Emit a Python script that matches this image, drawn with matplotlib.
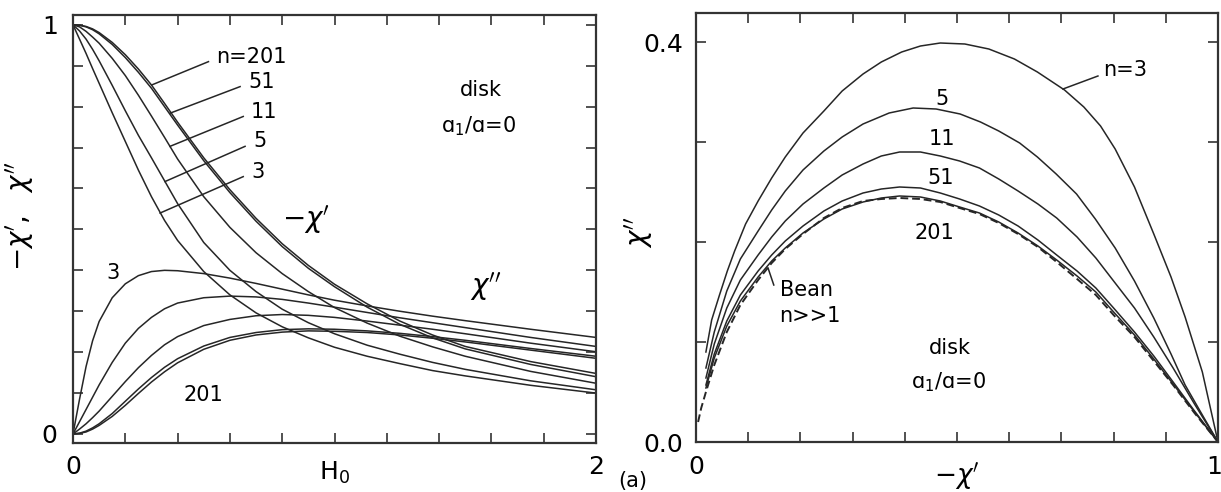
import matplotlib
matplotlib.use("Agg")
import matplotlib.pyplot as plt
from matplotlib.transforms import ScaledTranslation

# ---------------- left panel: -chi' and chi'' versus H0 ----------------
h0 = [0, 0.025, 0.05, 0.075, 0.1, 0.15, 0.2, 0.25, 0.3, 0.35, 0.4, 0.5, 0.6,
      0.7, 0.8, 0.9, 1.0, 1.125, 1.25, 1.375, 1.5, 1.75, 2.0]

chi1_n3 = [1, 0.965, 0.93, 0.893, 0.857, 0.785, 0.715, 0.645, 0.58, 0.522, 0.473,
           0.397, 0.34, 0.296, 0.262, 0.235, 0.212, 0.19, 0.172, 0.155, 0.142, 0.119, 0.1]
chi1_n5 = [1, 0.985, 0.965, 0.94, 0.912, 0.852, 0.79, 0.73, 0.675, 0.619, 0.563,
           0.468, 0.4, 0.348, 0.305, 0.272, 0.245, 0.217, 0.195, 0.175, 0.158, 0.13, 0.108]
chi1_n11 = [1, 0.995, 0.984, 0.97, 0.955, 0.918, 0.876, 0.828, 0.777, 0.725, 0.672,
            0.58, 0.505, 0.443, 0.392, 0.348, 0.309, 0.271, 0.239, 0.213, 0.19, 0.153, 0.124]
chi1_n51 = [1, 0.999, 0.995, 0.988, 0.978, 0.952, 0.92, 0.884, 0.845, 0.8, 0.755,
            0.668, 0.59, 0.52, 0.458, 0.405, 0.36, 0.31, 0.268, 0.235, 0.208, 0.17, 0.14]
chi1_n201 = [1, 0.999, 0.996, 0.99, 0.981, 0.957, 0.927, 0.892, 0.853, 0.808, 0.762,
             0.675, 0.597, 0.527, 0.465, 0.412, 0.366, 0.318, 0.276, 0.242, 0.214, 0.177, 0.148]

chi2_n3 = [0, 0.085, 0.165, 0.228, 0.275, 0.333, 0.367, 0.387, 0.397, 0.4, 0.399,
           0.392, 0.381, 0.368, 0.354, 0.34, 0.327, 0.313, 0.3, 0.288, 0.277, 0.256, 0.236]
chi2_n5 = [0, 0.03, 0.06, 0.09, 0.12, 0.175, 0.222, 0.258, 0.285, 0.306, 0.32,
           0.333, 0.337, 0.335, 0.329, 0.32, 0.31, 0.297, 0.284, 0.272, 0.26, 0.236, 0.214]
chi2_n11 = [0, 0.012, 0.025, 0.04, 0.056, 0.092, 0.128, 0.162, 0.192, 0.218, 0.238,
            0.265, 0.28, 0.289, 0.292, 0.29, 0.285, 0.276, 0.266, 0.256, 0.245, 0.222, 0.201]
chi2_n51 = [0, 0.002, 0.007, 0.015, 0.025, 0.05, 0.08, 0.11, 0.138, 0.163, 0.184,
            0.215, 0.236, 0.248, 0.255, 0.257, 0.256, 0.252, 0.246, 0.238, 0.229, 0.209, 0.19]
chi2_n201 = [0, 0.0015, 0.005, 0.012, 0.021, 0.043, 0.07, 0.099, 0.127, 0.152, 0.174,
             0.207, 0.229, 0.242, 0.249, 0.252, 0.251, 0.248, 0.242, 0.234, 0.225, 0.205, 0.185]

# ---------------- right panel: chi'' versus -chi' ----------------
x_n3 = [0.019, 0.03, 0.045, 0.06, 0.074, 0.095, 0.119, 0.145, 0.171, 0.205, 0.245,
        0.28, 0.32, 0.355, 0.394, 0.43, 0.468, 0.515, 0.561, 0.61, 0.654, 0.706,
        0.743, 0.775, 0.803, 0.84, 0.877, 0.91, 0.937, 0.97, 1.0]
y_n3 = [0.09, 0.122, 0.147, 0.171, 0.191, 0.218, 0.241, 0.264, 0.285, 0.309, 0.331,
        0.351, 0.368, 0.38, 0.39, 0.396, 0.399, 0.398, 0.393, 0.383, 0.37, 0.352,
        0.335, 0.316, 0.293, 0.255, 0.208, 0.165, 0.125, 0.07, 0.0]

x_n5 = [0.019, 0.035, 0.059, 0.085, 0.119, 0.145, 0.171, 0.205, 0.245, 0.28, 0.32,
        0.37, 0.416, 0.46, 0.506, 0.545, 0.58, 0.62, 0.654, 0.69, 0.729, 0.765,
        0.803, 0.84, 0.877, 0.91, 0.937, 0.97, 1.0]
y_n5 = [0.074, 0.11, 0.151, 0.183, 0.211, 0.232, 0.251, 0.272, 0.291, 0.305, 0.318,
        0.329, 0.334, 0.333, 0.328, 0.32, 0.311, 0.299, 0.285, 0.268, 0.248, 0.223,
        0.194, 0.161, 0.124, 0.088, 0.057, 0.027, 0.0]

x_low = [0.019, 0.035, 0.059, 0.085, 0.119, 0.145, 0.171, 0.205, 0.245, 0.28, 0.32,
         0.355, 0.39, 0.43, 0.468, 0.505, 0.543, 0.58, 0.617, 0.655, 0.691, 0.73,
         0.766, 0.8, 0.84, 0.877, 0.914, 0.955, 1.0]
y_n11 = [0.064, 0.098, 0.134, 0.162, 0.187, 0.205, 0.221, 0.238, 0.254, 0.267, 0.278,
         0.286, 0.29, 0.29, 0.286, 0.281, 0.274, 0.263, 0.251, 0.238, 0.224, 0.205,
         0.184, 0.161, 0.134, 0.105, 0.074, 0.038, 0.0]
y_n51 = [0.057, 0.088, 0.121, 0.147, 0.171, 0.187, 0.201, 0.216, 0.231, 0.241, 0.249,
         0.253, 0.255, 0.254, 0.249, 0.243, 0.236, 0.227, 0.216, 0.202, 0.187, 0.171,
         0.154, 0.134, 0.11, 0.086, 0.06, 0.031, 0.0]
y_n201 = [0.054, 0.084, 0.116, 0.141, 0.165, 0.181, 0.194, 0.209, 0.223, 0.233, 0.24,
          0.244, 0.246, 0.245, 0.241, 0.235, 0.229, 0.22, 0.209, 0.196, 0.182, 0.166,
          0.15, 0.13, 0.107, 0.083, 0.058, 0.03, 0.0]

x_bean = [0.004, 0.01] + x_low
y_bean = [0.02, 0.034, 0.05, 0.077, 0.11, 0.137, 0.162, 0.179, 0.193, 0.208, 0.224,
          0.234, 0.241, 0.243, 0.244, 0.243, 0.24, 0.234, 0.228, 0.219, 0.208, 0.195,
          0.18, 0.163, 0.147, 0.127, 0.105, 0.081, 0.057, 0.029, 0.0]

LINE = "#262626"
LW = 1.1

plt.rcParams["mathtext.fontset"] = "dejavusans"
fig = plt.figure(figsize=(12.21, 4.92), dpi=100)


def style_axes(ax):
    for s in ax.spines.values():
        s.set_linewidth(1.6)
        s.set_color("#333333")
    ax.tick_params(which="both", direction="in", top=True, right=True,
                   length=7, width=1.2, color="#333333", labelsize=18)
    ax.tick_params(axis="x", pad=9)
    ax.tick_params(axis="y", pad=11)


# ---------- left axes ----------
axL = fig.add_axes([73 / 1221, 1 - 443 / 492, 523 / 1221, 428 / 492])
for y in (chi1_n3, chi1_n5, chi1_n11, chi1_n51, chi1_n201,
          chi2_n3, chi2_n5, chi2_n11, chi2_n51, chi2_n201):
    axL.plot(h0, y, color=LINE, lw=LW)
axL.set_xlim(0, 2)
axL.set_ylim(-0.022, 1.024)
axL.set_xticks([i * 0.2 for i in range(11)], ["0"] + [""] * 9 + ["2"])
axL.set_yticks([i * 0.1 for i in range(11)], ["0"] + [""] * 9 + ["1"])
style_axes(axL)
axL.set_xlabel("H$_0$", fontsize=18)
axL.xaxis.set_label_coords(0.5, -0.07)
axL.xaxis.label.set_va("center")
axL.set_ylabel(r"$-\chi',\ \ \chi''$", fontsize=20)
axL.yaxis.set_label_coords(-0.07, 0.53)

# leader lines with labels for the -chi' family
leaders_L = [((0.301, 0.853), (0.518, 0.910), "n=201"),
             ((0.371, 0.784), (0.639, 0.849), "51"),
             ((0.371, 0.703), (0.651, 0.776), "11"),
             ((0.352, 0.617), (0.658, 0.703), "5"),
             ((0.333, 0.540), (0.651, 0.629), "3")]
for (x0, y0), (x1, y1), txt in leaders_L:
    axL.plot([x0, x1], [y0, y1], color=LINE, lw=LW)
    axL.text(x1 + 0.03, y1 + 0.012, txt, fontsize=15, ha="left", va="center")

axL.text(0.80, 0.523, r"$-\chi'$", fontsize=20, ha="left", va="center")
axL.text(1.58, 0.36, r"$\chi''$", fontsize=20, ha="center", va="center")
axL.text(0.154, 0.393, "3", fontsize=15, ha="center", va="center")
axL.text(0.50, 0.095, "201", fontsize=15, ha="center", va="center")
axL.text(1.56, 0.84, "disk", fontsize=15, ha="center", va="center")
axL.text(1.55, 0.752, "ɑ$_1$/ɑ=0", fontsize=15, ha="center", va="center")

# ---------- right axes ----------
axR = fig.add_axes([696 / 1221, 1 - 442 / 492, 522 / 1221, 429 / 492])
for xs, ys in ((x_n3, y_n3), (x_n5, y_n5), (x_low, y_n11),
               (x_low, y_n51), (x_low, y_n201)):
    axR.plot(xs, ys, color=LINE, lw=LW)
axR.plot(x_bean, y_bean, color=LINE, lw=1.4, ls=(0, (4, 2)))
axR.set_xlim(0, 1)
axR.set_ylim(0, 0.429)
axR.set_xticks([i * 0.1 for i in range(11)], ["0"] + [""] * 9 + ["1"])
axR.set_yticks([0, 0.1, 0.2, 0.3, 0.4], ["0.0", "", "", "", "0.4"])
style_axes(axR)
axR.tick_params(axis="y", pad=9)
last = axR.get_xticklabels()[-1]
last.set_transform(last.get_transform() + ScaledTranslation(-4 / 100, 0, fig.dpi_scale_trans))
axR.set_xlabel(r"$-\chi'$", fontsize=19)
axR.xaxis.set_label_coords(0.5, -0.08)
axR.xaxis.label.set_va("center")
axR.set_ylabel(r"$\chi''$", fontsize=20)
axR.yaxis.set_label_coords(-0.078, 0.49)

axR.plot([0.703, 0.77], [0.353, 0.366], color=LINE, lw=LW)
axR.text(0.78, 0.372, "n=3", fontsize=15, ha="left", va="center")
axR.text(0.472, 0.343, "5", fontsize=15, ha="center", va="center")
axR.text(0.472, 0.303, "11", fontsize=15, ha="center", va="center")
axR.text(0.468, 0.264, "51", fontsize=15, ha="center", va="center")
axR.text(0.457, 0.209, "201", fontsize=15, ha="center", va="center")
axR.plot([0.138, 0.149], [0.174, 0.157], color=LINE, lw=LW)
axR.text(0.16, 0.152, "Bean", fontsize=15, ha="left", va="center")
axR.text(0.16, 0.126, "n>>1", fontsize=15, ha="left", va="center")
axR.text(0.487, 0.094, "disk", fontsize=15, ha="center", va="center")
axR.text(0.483, 0.06, "ɑ$_1$/ɑ=0", fontsize=15, ha="center", va="center")

fig.text(633 / 1221, 1 - 481 / 492, "(a)", fontsize=15, ha="center", va="center")

fig.savefig("out.png", dpi=100)
